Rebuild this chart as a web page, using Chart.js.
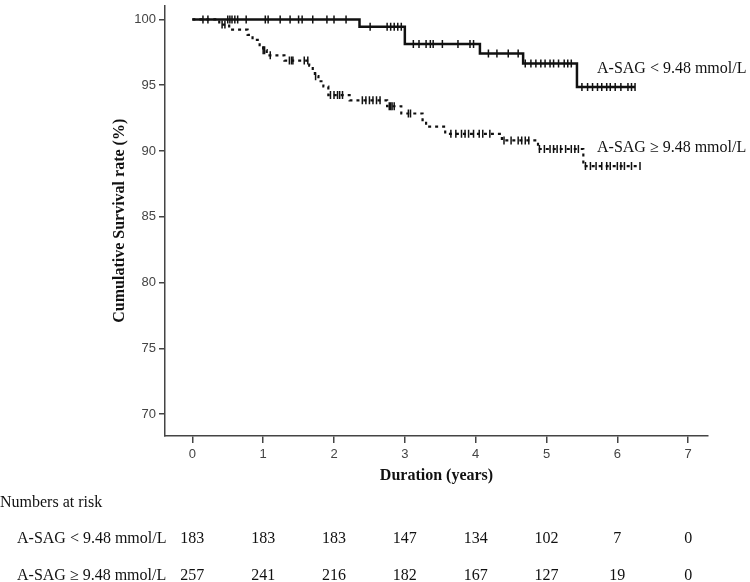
<!DOCTYPE html>
<html>
<head>
<meta charset="utf-8">
<script src="https://cdn.jsdelivr.net/npm/chart.js@4.4.1/dist/chart.umd.min.js"></script>
<style>
  body { margin: 0; background: #fff; }
  #wrap { position: relative; width: 750px; height: 582px; font-family: "Liberation Serif", "Times New Roman", serif; color: #111; }
  #wrap canvas { position: absolute; left: 0; top: 0; }
  .txt { position: absolute; font-size: 16px; line-height: 1; white-space: nowrap; }
  .num { transform: translateX(-50%); }
</style>
</head>
<body>
<div id="wrap">
  <canvas id="km" width="750" height="582"></canvas>
  <div class="txt" id="curveLow" style="left:597px;top:60px"></div>
  <div class="txt" id="curveHigh" style="left:597px;top:139px"></div>
  <div class="txt" style="left:0px;top:494px">Numbers at risk</div>
  <div class="txt" id="rowLowName" style="left:17px;top:530px"></div>
  <div class="txt" id="rowHighName" style="left:17px;top:567px"></div>
</div>
<script>
// axis ticks
const xTicks = [0, 1, 2, 3, 4, 5, 6, 7];
const yTicks = [70, 75, 80, 85, 90, 95, 100];

const groupNames = ["A-SAG < 9.48 mmol/L", "A-SAG \u2265 9.48 mmol/L"];

// Kaplan-Meier steps, low group (time in years, survival %)
const lowTimes = [0, 2.36, 3.0, 4.06, 4.67, 5.43, 6.25];
const lowSurv  = [100, 99.45, 98.13, 97.41, 96.65, 94.86, 94.86];
const lowCensor = [0.15, 0.22, 0.5, 0.53, 0.56, 0.6, 0.64, 0.76, 1.03, 1.07, 1.24, 1.38, 1.5, 1.55, 1.7, 1.9, 2.0, 2.17,
  2.51, 2.75, 2.8, 2.85, 2.9, 2.95, 3.12, 3.2, 3.3, 3.36, 3.4, 3.53, 3.75, 3.92, 3.97,
  4.18, 4.3, 4.46, 4.6, 4.7, 4.78, 4.85, 4.92, 4.98, 5.05, 5.1, 5.17, 5.25, 5.3, 5.35,
  5.5, 5.58, 5.65, 5.72, 5.78, 5.85, 5.9, 5.97, 6.05, 6.15, 6.2, 6.25];

// high group
const highTimes = [0, 0.38, 0.52, 0.78, 0.85, 0.95, 1.0, 1.05, 1.3, 1.65, 1.7, 1.73, 1.78, 1.85, 1.92, 2.22, 2.75, 2.95, 3.25, 3.3, 3.57, 4.37, 4.88, 5.52, 6.32];
const highSurv  = [100, 99.61, 99.22, 98.83, 98.44, 98.05, 97.66, 97.27, 96.87, 96.48, 96.09, 95.69, 95.3, 94.9, 94.25, 93.85, 93.4, 92.85, 92.35, 91.85, 91.3, 90.8, 90.15, 88.85, 88.85];
const highCensor = [0.42, 0.46, 1.0, 1.02, 1.1, 1.37, 1.4, 1.42, 1.58, 1.63, 1.74, 1.95, 2.0, 2.05, 2.08, 2.12,
  2.4, 2.45, 2.5, 2.55, 2.6, 2.65, 2.78, 2.8, 2.82, 2.85, 3.05, 3.08,
  3.65, 3.72, 3.8, 3.85, 3.9, 3.97, 4.05, 4.1, 4.2, 4.4, 4.5, 4.6, 4.65, 4.7, 4.75,
  4.9, 4.97, 5.05, 5.1, 5.15, 5.2, 5.27, 5.35, 5.4, 5.45,
  5.55, 5.62, 5.7, 5.78, 5.85, 5.9, 6.0, 6.05, 6.1, 6.2, 6.32];

// numbers at risk
const riskLow  = [183, 183, 183, 147, 134, 102, 7, 0];
const riskHigh = [257, 241, 216, 182, 167, 127, 19, 0];

function survAt(times, surv, t) {
  let v = surv[0];
  for (let i = 0; i < times.length; i++) {
    if (times[i] <= t) v = surv[i];
  }
  return v;
}

const serif = '"Liberation Serif", "Times New Roman", serif';
const sans = '"Liberation Sans", Arial, sans-serif';
const axisColor = '#444';

const ctx = document.getElementById('km').getContext('2d');

const chart = new Chart(ctx, {
  type: 'scatter',
  data: {
    datasets: [
      {
        data: lowTimes.map((t, i) => ({ x: t, y: lowSurv[i] })),
        showLine: true, stepped: true,
        borderColor: '#111', borderWidth: 2.5, pointRadius: 0
      },
      {
        data: highTimes.map((t, i) => ({ x: t, y: highSurv[i] })),
        showLine: true, stepped: true,
        borderColor: '#111', borderWidth: 2.2, borderDash: [3, 4], pointRadius: 0
      },
      {
        data: lowCensor.map(t => ({ x: t, y: survAt(lowTimes, lowSurv, t) })),
        pointStyle: 'line', rotation: 90, pointRadius: 4,
        borderColor: '#111', borderWidth: 1.5
      },
      {
        data: highCensor.map(t => ({ x: t, y: survAt(highTimes, highSurv, t) })),
        pointStyle: 'line', rotation: 90, pointRadius: 4,
        borderColor: '#111', borderWidth: 1.5
      }
    ]
  },
  options: {
    responsive: false,
    animation: false,
    layout: { padding: { left: 0, right: 42, top: 0, bottom: 0 } },
    plugins: { legend: { display: false }, tooltip: { enabled: false } },
    scales: {
      x: {
        type: 'linear', min: -0.386, max: 7.28,
        afterBuildTicks: s => { s.ticks = xTicks.map(v => ({ value: v })); },
        afterFit: s => { s.height = 146; s.paddingLeft = 0; s.paddingRight = 0; },
        grid: { drawOnChartArea: false, drawTicks: true, tickLength: 7, color: axisColor, lineWidth: 1.5 },
        border: { display: true, color: axisColor, width: 1.5 },
        ticks: { autoSkip: false, maxRotation: 0, color: axisColor, padding: 4, font: { family: sans, size: 13 } },
        title: { display: true, text: 'Duration (years)', color: '#111', font: { family: serif, size: 16, weight: 'bold' }, padding: { top: 0, bottom: 97 } }
      },
      y: {
        type: 'linear', min: 68.33, max: 101.06,
        afterBuildTicks: s => { s.ticks = yTicks.map(v => ({ value: v })); },
        afterFit: s => { s.width = 165; s.paddingTop = 0; s.paddingBottom = 0; },
        grid: { drawOnChartArea: false, drawTicks: true, tickLength: 6, color: axisColor, lineWidth: 1.5 },
        border: { display: true, color: axisColor, width: 1.5 },
        ticks: { autoSkip: false, color: axisColor, padding: 3, font: { family: sans, size: 13 } },
        title: { display: true, text: 'Cumulative Survival rate (%)', color: '#111', font: { family: serif, size: 16, weight: 'bold' }, padding: { top: 110, bottom: 0 } }
      }
    }
  }
});

// labels and risk table, placed on the chart's own x scale
document.getElementById('curveLow').textContent = groupNames[0];
document.getElementById('curveHigh').textContent = groupNames[1];
document.getElementById('rowLowName').textContent = groupNames[0];
document.getElementById('rowHighName').textContent = groupNames[1];

const wrap = document.getElementById('wrap');
function addRow(values, top) {
  values.forEach((v, i) => {
    const d = document.createElement('div');
    d.className = 'txt num';
    d.style.left = chart.scales.x.getPixelForValue(xTicks[i]) + 'px';
    d.style.top = top + 'px';
    d.textContent = v;
    wrap.appendChild(d);
  });
}
addRow(riskLow, 530);
addRow(riskHigh, 567);
</script>
</body>
</html>
